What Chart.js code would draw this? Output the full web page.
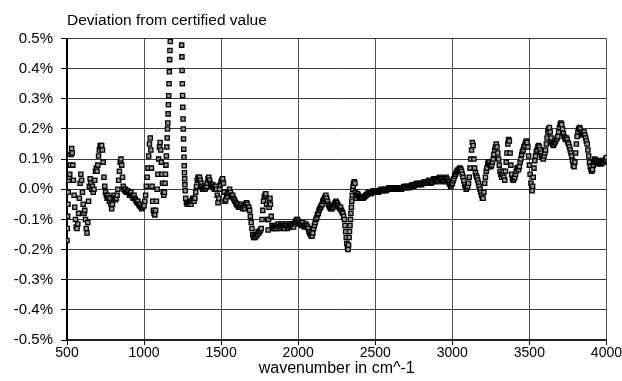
<!DOCTYPE html>
<html>
<head>
<meta charset="utf-8">
<script src="https://cdn.jsdelivr.net/npm/chart.js@4/dist/chart.umd.min.js"></script>
<style>
  html, body { margin: 0; padding: 0; background: #fff; }
  canvas { display: block; }
</style>
</head>
<body>
<canvas id="chart" width="622" height="381"></canvas>
<script>
// Wavenumber (cm^-1) of each measured point
const wavenumber = [
  500,502,504,506,508,511,514,518,522,526,
  530,534,538,542,546,550,555,560,565,570,
  575,580,585,590,595,600,605,610,615,620,
  625,630,635,640,645,650,655,660,665,670,
  675,680,685,690,695,700,705,710,715,720,
  725,730,735,740,745,750,755,760,765,770,
  775,780,785,790,795,800,805,810,815,820,
  825,830,835,840,845,850,855,860,865,870,
  875,880,885,890,895,900,905,910,915,920,
  925,930,935,940,945,950,955,960,965,970,
  975,980,985,990,995,1000,1005,1010,1015,1020,
  1025,1030,1035,1040,1044,1048,1052,1056,1060,1065,
  1070,1075,1080,1085,1090,1095,1100,1104,1108,1112,
  1116,1120,1124,1128,1132,1136,1139,1142,1145,1148,
  1150,1152,1154,1156,1158,1160,1162,1164,1166,1168,
  1170,1244,1245.5,1247,1248.5,1250,1251.5,1253,1254.5,1256,
  1257.5,1259,1260.5,1262,1263.5,1265,1267,1270,1275,1280,
  1285,1290,1295,1300,1305,1310,1315,1320,1325,1330,
  1335,1340,1345,1350,1355,1360,1365,1370,1375,1380,
  1385,1390,1395,1400,1405,1410,1415,1420,1425,1430,
  1435,1440,1445,1450,1455,1460,1465,1470,1475,1480,
  1485,1490,1495,1500,1505,1510,1515,1520,1525,1530,
  1535,1540,1545,1550,1555,1560,1565,1570,1575,1580,
  1585,1590,1595,1600,1605,1610,1615,1620,1625,1630,
  1635,1640,1645,1650,1655,1660,1665,1670,1675,1680,
  1685,1690,1695,1700,1705,1710,1715,1720,1725,1730,
  1735,1740,1745,1750,1755,1760,1765,1770,1775,1780,
  1785,1790,1795,1800,1805,1808,1811,1814,1817,1820,
  1825,1830,1835,1840,1845,1850,1855,1860,1865,1870,
  1875,1880,1885,1890,1895,1900,1905,1910,1915,1920,
  1925,1930,1935,1940,1945,1950,1955,1960,1965,1970,
  1975,1980,1985,1990,1995,2000,2005,2010,2015,2020,
  2025,2030,2035,2040,2045,2050,2055,2060,2065,2070,
  2075,2080,2085,2090,2095,2100,2105,2110,2115,2120,
  2125,2130,2135,2140,2145,2150,2155,2160,2165,2170,
  2175,2180,2185,2190,2195,2200,2205,2210,2215,2220,
  2225,2230,2235,2240,2245,2250,2255,2260,2265,2270,
  2275,2280,2285,2290,2295,2300,2304,2308,2312,2316,
  2320,2324,2327,2330,2333,2336,2339,2342,2345,2348,
  2351,2354,2357,2360,2364,2368,2372,2376,2380,2385,
  2390,2395,2400,2405,2410,2415,2420,2425,2430,2435,
  2440,2445,2450,2455,2460,2465,2470,2475,2480,2485,
  2490,2495,2500,2505,2510,2515,2520,2525,2530,2535,
  2540,2545,2550,2555,2560,2565,2570,2575,2580,2585,
  2590,2595,2600,2605,2610,2615,2620,2625,2630,2635,
  2640,2645,2650,2655,2660,2665,2670,2675,2680,2685,
  2690,2695,2700,2705,2710,2715,2720,2725,2730,2735,
  2740,2745,2750,2755,2760,2765,2770,2775,2780,2785,
  2790,2795,2800,2805,2810,2815,2820,2825,2830,2835,
  2840,2845,2850,2855,2860,2865,2870,2875,2880,2885,
  2890,2895,2900,2905,2910,2915,2920,2925,2930,2935,
  2940,2945,2950,2955,2960,2965,2970,2975,2980,2985,
  2990,2995,3000,3005,3010,3015,3020,3025,3030,3035,
  3040,3045,3050,3055,3060,3065,3070,3075,3080,3085,
  3090,3095,3100,3105,3110,3115,3120,3125,3130,3135,
  3140,3145,3150,3155,3160,3165,3170,3175,3180,3185,
  3190,3195,3200,3205,3210,3215,3220,3225,3230,3235,
  3240,3245,3250,3255,3260,3265,3270,3275,3280,3285,
  3290,3295,3300,3305,3310,3315,3320,3325,3330,3335,
  3340,3345,3350,3355,3360,3365,3370,3375,3380,3385,
  3390,3395,3400,3405,3410,3415,3420,3425,3430,3435,
  3440,3445,3450,3455,3460,3465,3470,3475,3480,3485,
  3490,3495,3500,3505,3510,3515,3518,3521,3525,3530,
  3535,3540,3545,3550,3555,3560,3565,3570,3575,3580,
  3585,3590,3595,3600,3605,3610,3615,3620,3625,3630,
  3635,3640,3645,3650,3655,3660,3665,3670,3675,3680,
  3685,3690,3695,3700,3705,3710,3715,3720,3725,3730,
  3735,3740,3745,3750,3755,3760,3765,3770,3775,3780,
  3785,3790,3795,3800,3805,3810,3815,3820,3825,3830,
  3835,3840,3845,3850,3855,3860,3865,3870,3875,3880,
  3885,3890,3895,3900,3905,3910,3915,3920,3925,3930,
  3935,3940,3945,3950,3955,3960,3965,3970,3975,3980,
  3985,3990,3995,4000
];

// Deviation from the certified value, in percent
const deviation = [
  -0.17,-0.13,-0.09,-0.05,-0.01,0.03,0.04,0.05,0.08,0.115,
  0.135,0.12,0.08,0.03,-0.02,-0.06,-0.10,-0.125,-0.13,-0.115,
  -0.08,-0.03,0.02,0.05,0.03,-0.01,-0.05,-0.08,-0.07,-0.10,
  -0.13,-0.145,-0.11,-0.04,0.01,0.035,0.02,0.0,0.01,-0.01,
  0.0,0.03,0.06,0.07,0.06,0.08,0.11,0.13,0.145,0.14,
  0.145,0.13,0.09,0.04,0.01,-0.01,-0.02,-0.03,-0.02,-0.03,
  -0.04,-0.03,-0.05,-0.065,-0.05,-0.03,-0.02,-0.03,-0.035,-0.03,
  -0.02,0.0,0.03,0.06,0.09,0.10,0.08,0.04,0.01,0.0,
  -0.005,0.0,-0.01,-0.01,-0.005,-0.01,-0.02,-0.015,-0.01,-0.02,
  -0.025,-0.03,-0.02,-0.03,-0.035,-0.04,-0.045,-0.04,-0.05,-0.055,
  -0.05,-0.06,-0.065,-0.06,-0.055,-0.055,-0.04,-0.02,0.01,0.04,
  0.07,0.11,0.15,0.17,0.13,0.07,0.01,-0.04,-0.07,-0.08,
  -0.085,-0.07,-0.04,0.0,0.05,0.10,0.14,0.155,0.13,0.09,
  0.05,0.02,-0.01,-0.02,-0.01,0.02,0.05,0.08,0.11,0.14,
  0.17,0.20,0.22,0.25,0.28,0.31,0.35,0.39,0.43,0.46,
  0.49,0.478,0.439,0.394,0.35,0.311,0.272,0.233,0.20,0.167,
  0.133,0.106,0.078,0.055,0.035,0.015,-0.005,-0.03,-0.045,-0.05,
  -0.045,-0.05,-0.04,-0.045,-0.05,-0.04,-0.03,-0.035,-0.04,-0.03,
  -0.01,0.01,0.03,0.04,0.035,0.04,0.03,0.02,0.01,0.0,
  0.005,0.01,0.0,0.005,0.01,0.02,0.035,0.04,0.03,0.02,
  0.015,0.01,0.015,0.01,0.0,0.005,0.01,0.0,-0.02,-0.045,
  -0.03,0.0,0.015,0.025,0.03,0.035,0.02,-0.01,-0.04,-0.035,
  -0.02,-0.025,-0.015,-0.01,0.0,-0.01,-0.02,-0.025,-0.02,-0.03,
  -0.035,-0.04,-0.045,-0.05,-0.055,-0.05,-0.06,-0.06,-0.055,-0.05,
  -0.06,-0.065,-0.055,-0.06,-0.065,-0.05,-0.045,-0.05,-0.06,-0.06,
  -0.07,-0.09,-0.11,-0.13,-0.15,-0.16,-0.155,-0.16,-0.15,-0.155,
  -0.15,-0.14,-0.145,-0.14,-0.135,-0.13,-0.10,-0.07,-0.04,-0.025,
  -0.02,-0.015,-0.05,-0.10,-0.135,-0.10,-0.06,-0.04,-0.03,-0.05,
  -0.09,-0.12,-0.13,-0.125,-0.13,-0.12,-0.125,-0.13,-0.12,-0.115,
  -0.125,-0.13,-0.12,-0.125,-0.115,-0.12,-0.125,-0.13,-0.12,-0.115,
  -0.12,-0.13,-0.125,-0.12,-0.115,-0.12,-0.125,-0.115,-0.12,-0.125,
  -0.115,-0.11,-0.105,-0.10,-0.10,-0.105,-0.11,-0.115,-0.11,-0.12,
  -0.115,-0.11,-0.12,-0.125,-0.12,-0.115,-0.12,-0.125,-0.13,-0.14,
  -0.145,-0.15,-0.155,-0.155,-0.145,-0.13,-0.12,-0.11,-0.10,-0.095,
  -0.085,-0.08,-0.07,-0.065,-0.06,-0.055,-0.05,-0.04,-0.035,-0.03,
  -0.025,-0.02,-0.03,-0.04,-0.05,-0.055,-0.06,-0.065,-0.06,-0.065,
  -0.06,-0.055,-0.05,-0.045,-0.04,-0.045,-0.05,-0.055,-0.06,-0.065,
  -0.06,-0.07,-0.075,-0.08,-0.09,-0.10,-0.12,-0.14,-0.16,-0.18,
  -0.195,-0.20,-0.185,-0.16,-0.14,-0.12,-0.10,-0.08,-0.06,-0.04,
  -0.02,0.0,0.01,0.02,0.025,0.02,-0.01,-0.03,-0.02,-0.015,
  -0.02,-0.025,-0.03,-0.028,-0.025,-0.028,-0.03,-0.027,-0.025,-0.022,
  -0.02,-0.018,-0.015,-0.012,-0.01,-0.013,-0.015,-0.012,-0.01,-0.007,
  -0.005,-0.008,-0.01,-0.008,-0.005,-0.008,-0.01,-0.007,-0.005,-0.002,
  0.0,-0.003,-0.005,-0.002,0.0,-0.003,-0.005,-0.002,0.0,0.003,
  0.005,0.002,0.0,0.0,0.0,0.003,0.005,0.002,0.0,0.003,
  0.005,0.002,0.0,0.003,0.005,0.002,0.0,0.003,0.005,0.008,
  0.01,0.007,0.005,0.008,0.01,0.007,0.005,0.008,0.01,0.013,
  0.015,0.012,0.01,0.013,0.015,0.018,0.02,0.017,0.015,0.018,
  0.02,0.017,0.015,0.018,0.02,0.023,0.025,0.022,0.02,0.023,
  0.025,0.028,0.03,0.025,0.02,0.022,0.025,0.03,0.035,0.032,
  0.03,0.027,0.025,0.03,0.035,0.038,0.04,0.035,0.03,0.027,
  0.025,0.03,0.035,0.038,0.04,0.035,0.03,0.025,0.02,0.015,
  0.01,0.015,0.02,0.028,0.035,0.043,0.05,0.055,0.06,0.063,
  0.065,0.068,0.07,0.066,0.06,0.05,0.04,0.028,0.015,0.007,
  0.0,0.005,0.01,0.02,0.04,0.07,0.10,0.13,0.155,0.145,
  0.10,0.07,0.055,0.045,0.04,0.03,0.02,0.01,0.0,-0.01,
  -0.02,-0.03,-0.03,-0.01,0.02,0.04,0.06,0.07,0.085,0.09,
  0.09,0.08,0.075,0.08,0.09,0.10,0.115,0.13,0.14,0.15,
  0.14,0.12,0.10,0.08,0.06,0.05,0.04,0.05,0.06,0.04,
  0.03,0.06,0.09,0.12,0.15,0.165,0.16,0.12,0.08,0.05,
  0.035,0.03,0.035,0.04,0.05,0.06,0.07,0.07,0.065,0.075,
  0.09,0.10,0.115,0.125,0.13,0.14,0.145,0.155,0.16,0.155,
  0.14,0.11,0.08,0.05,0.02,0.0,-0.005,0.01,0.04,0.07,
  0.095,0.11,0.125,0.13,0.14,0.145,0.14,0.13,0.12,0.11,
  0.105,0.10,0.11,0.12,0.13,0.15,0.17,0.19,0.20,0.205,
  0.19,0.17,0.155,0.15,0.145,0.15,0.155,0.16,0.165,0.17,
  0.175,0.19,0.205,0.215,0.22,0.215,0.20,0.185,0.175,0.17,
  0.165,0.17,0.165,0.155,0.15,0.14,0.13,0.12,0.11,0.095,
  0.08,0.075,0.09,0.12,0.15,0.175,0.19,0.20,0.205,0.20,
  0.19,0.185,0.18,0.185,0.19,0.18,0.17,0.16,0.15,0.13,
  0.11,0.09,0.075,0.065,0.06,0.065,0.08,0.09,0.10,0.095,
  0.09,0.085,0.09,0.095,0.09,0.085,0.09,0.085,0.09,0.095,
  0.09,0.095,0.10,0.105
];

// Axis ticks
const xTicks = [500, 1000, 1500, 2000, 2500, 3000, 3500, 4000];
const yTicks = [-0.5, -0.4, -0.3, -0.2, -0.1, 0, 0.1, 0.2, 0.3, 0.4, 0.5];

const chartTitle = 'Deviation from certified value';
const xAxisTitle = 'wavenumber in cm^-1';

if (wavenumber.length !== deviation.length) {
  console.error('length mismatch', wavenumber.length, deviation.length);
}

const points = wavenumber.map((x, i) => ({ x: x, y: deviation[i] }));
const FONT = "'Liberation Sans', Arial, sans-serif";

new Chart(document.getElementById('chart'), {
  type: 'scatter',
  data: {
    datasets: [{
      data: points,
      showLine: false,
      pointStyle: 'rect',
      pointRadius: 3,
      pointHoverRadius: 3,
      pointBackgroundColor: '#999',
      pointBorderColor: '#000',
      pointBorderWidth: 1.3
    }]
  },
  options: {
    responsive: false,
    animation: false,
    devicePixelRatio: 1,
    events: [],
    layout: { padding: { left: 0, right: 15, top: 0, bottom: 0 } },
    plugins: {
      legend: { display: false },
      tooltip: { enabled: false },
      title: {
        display: true,
        text: chartTitle,
        align: 'start',
        fullSize: false,
        color: '#000',
        font: { family: FONT, size: 15.5, weight: 'normal', lineHeight: 1 },
        padding: { top: 13, bottom: 10 }
      }
    },
    scales: {
      x: {
        type: 'linear',
        min: 500,
        max: 4000,
        afterBuildTicks: (scale) => { scale.ticks = xTicks.map(v => ({ value: v })); },
        afterFit: (scale) => { scale.height = 41; },
        grid: { color: '#555', lineWidth: 1, drawTicks: true, tickLength: 5, tickColor: '#000' },
        border: { color: '#222', width: 2 },
        ticks: {
          color: '#000',
          autoSkip: false,
          maxRotation: 0,
          padding: 0,
          font: { family: FONT, size: 14 },
          callback: (v) => String(v)
        },
        title: {
          display: true,
          text: xAxisTitle,
          color: '#000',
          font: { family: FONT, size: 16, lineHeight: 1 },
          padding: { top: 0, bottom: 4 }
        }
      },
      y: {
        type: 'linear',
        min: -0.5,
        max: 0.5,
        afterBuildTicks: (scale) => { scale.ticks = yTicks.map(v => ({ value: v })); },
        afterFit: (scale) => { scale.width = 67; },
        grid: { color: '#3a3a3a', lineWidth: 1, drawTicks: true, tickLength: 6, tickColor: '#000' },
        border: { color: '#000', width: 2 },
        ticks: {
          color: '#000',
          padding: 8,
          font: { family: FONT, size: 15 },
          callback: (v) => (Math.abs(v) < 1e-9 ? 0 : v).toFixed(1) + '%'
        }
      }
    }
  }
});
</script>
</body>
</html>
